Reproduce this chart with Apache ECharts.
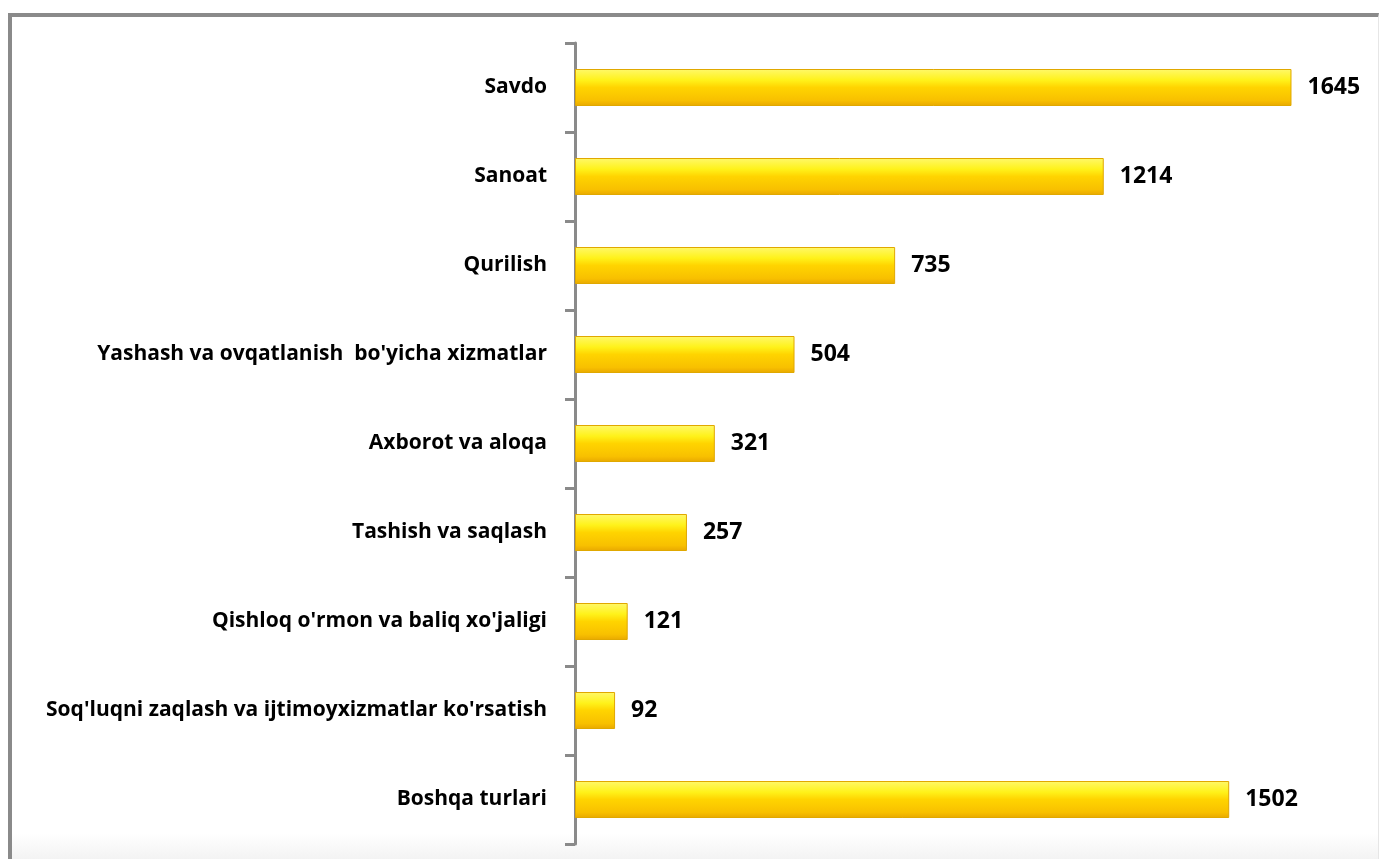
<!DOCTYPE html>
<html>
<head>
<meta charset="utf-8">
<script src="https://cdn.jsdelivr.net/npm/echarts@6/dist/echarts.min.js"></script>
<style>
  html, body { margin: 0; padding: 0; background: #fff; }
  #frame {
    position: absolute; left: 8px; top: 13px; width: 1366px; height: 842px;
    border-left: 4px solid #8a8a8a; border-top: 4px solid #8a8a8a;
    border-right: 1px solid #e6e6e6;
    background: linear-gradient(to bottom, #fff 97%, #f3f3f3 100%);
  }
  #main { position: absolute; left: 0; top: 0; width: 1381px; height: 867px; }
</style>
</head>
<body>
<div id="frame"></div>
<div id="main"></div>
<script>
// kategoriyalar (yuqoridan pastga)
var categories = [
  'Savdo',
  'Sanoat',
  'Qurilish',
  "Yashash va ovqatlanish  bo'yicha xizmatlar",
  'Axborot va aloqa',
  'Tashish va saqlash',
  "Qishloq o'rmon va baliq xo'jaligi",
  "Soq'luqni zaqlash va ijtimoyxizmatlar ko'rsatish",
  'Boshqa turlari'
];
var values = [1645, 1214, 735, 504, 321, 257, 121, 92, 1502];

var chart = echarts.init(document.getElementById('main'), null, { renderer: 'canvas' });

var barColor = new echarts.graphic.LinearGradient(0, 0, 0, 1, [
  { offset: 0, color: '#fff86a' },
  { offset: 0.3, color: '#fff21a' },
  { offset: 0.5, color: '#ffd400' },
  { offset: 0.85, color: '#f8c000' },
  { offset: 1, color: '#e8a800' }
]);

var option = {
  backgroundColor: 'transparent',
  grid: { left: 575, top: 43, bottom: 23, width: 784, containLabel: false },
  xAxis: {
    type: 'value',
    min: 0,
    max: 1800,
    show: false
  },
  yAxis: {
    type: 'category',
    inverse: true,
    data: categories,
    axisLine: { show: true, lineStyle: { color: '#8a8a8a', width: 3 } },
    axisTick: { show: true, length: 10, lineStyle: { color: '#8a8a8a', width: 3 } },
    axisLabel: {
      margin: 28,
      color: '#000',
      fontFamily: 'Open Sans',
      fontWeight: 'bold',
      fontSize: 21
    },
    splitLine: { show: false }
  },
  series: [{
    type: 'bar',
    data: values,
    barWidth: 37,
    itemStyle: {
      color: barColor,
      borderColor: '#e0a800',
      borderWidth: 1
    },
    label: {
      show: true,
      position: 'right',
      distance: 16,
      color: '#000',
      fontFamily: 'Open Sans',
      fontWeight: 'bold',
      fontSize: 23
    }
  }]
};
chart.setOption(option);
</script>
</body>
</html>
